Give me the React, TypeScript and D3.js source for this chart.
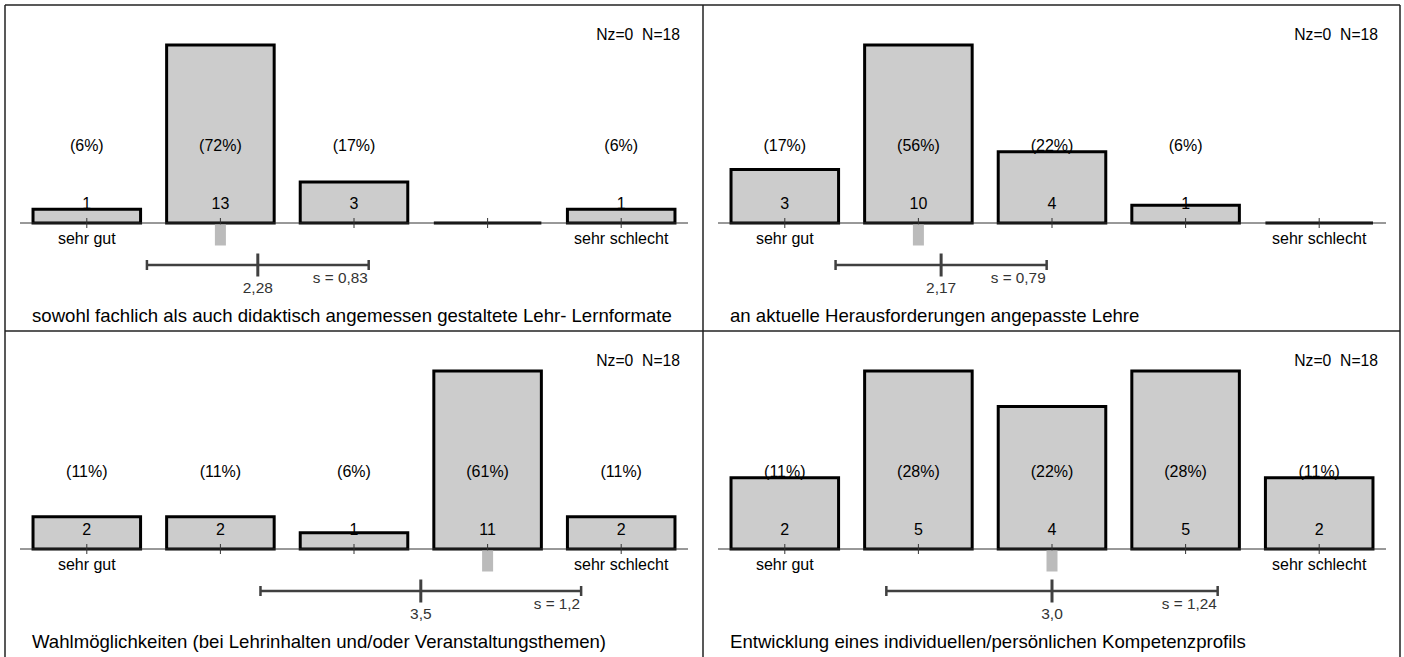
import React from 'react'
import * as d3 from 'd3'

// answer scale 1..5
const categories = ['1', '2', '3', '4', '5']
const endLabels = ['sehr gut', '', '', '', 'sehr schlecht']

const titles = [
  'sowohl fachlich als auch didaktisch angemessen gestaltete Lehr- Lernformate',
  'an aktuelle Herausforderungen angepasste Lehre',
  'Wahlmöglichkeiten (bei Lehrinhalten und/oder Veranstaltungsthemen)',
  'Entwicklung eines individuellen/persönlichen Kompetenzprofils',
]

const counts = [
  [1, 13, 3, 0, 1],
  [3, 10, 4, 1, 0],
  [2, 2, 1, 11, 2],
  [2, 5, 4, 5, 2],
]

const means = [2.28, 2.17, 3.5, 3.0]
const meanLabels = ['2,28', '2,17', '3,5', '3,0']
const sds = [0.83, 0.79, 1.2, 1.24]
const sdLabels = ['0,83', '0,79', '1,2', '1,24']
const medians = [2, 2, 4, 3]
const nz = [0, 0, 0, 0]
const nTotal = [18, 18, 18, 18]

const W = 1404
const H = 657
const PW = 698
const PH = 326
const FONT = '"Liberation Sans", Arial, Helvetica, sans-serif'

const Panel: React.FC<{ i: number; x0: number; y0: number }> = ({ i, x0, y0 }) => {
  const data = counts[i]
  const base = 218
  const x = d3.scaleBand<string>().domain(categories).range([15, 683]).padding(0)
  const step = x.step()
  const cx = (c: string) => (x(c) ?? 0) + step / 2
  // continuous position for mean / sd
  const xv = d3.scaleLinear().domain([1, 5]).range([cx('1'), cx('5')])
  const y = d3.scaleLinear().domain([0, d3.max(data) ?? 1]).range([base, 40])
  const bw = step * 0.805
  const total = nTotal[i]
  const m = means[i]
  const s = sds[i]
  const lo = xv(m - s)
  const hi = xv(m + s)
  const lineY = 260

  return (
    <g transform={`translate(${x0},${y0})`} fontFamily={FONT} fill="#000">
      <text x={675} y={35} fontSize={15.7} textAnchor="end" xmlSpace="preserve">
        {`Nz=${nz[i]}  N=${total}`}
      </text>
      {/* bars */}
      {data.map((v, k) => {
        const c = categories[k]
        const left = cx(c) - bw / 2
        const top = y(v)
        return (
          <path
            key={'b' + k}
            d={`M${left},${base}V${top}H${left + bw}V${base}Z`}
            fill="#cccccc"
            stroke="#000"
            strokeWidth={3}
          />
        )
      })}
      {/* axis */}
      <line x1={15} x2={683} y1={base} y2={base} stroke="#333" strokeWidth={1} />
      {categories.map((c) => (
        <line key={'t' + c} x1={cx(c)} x2={cx(c)} y1={base - 5} y2={base + 5} stroke="#333" strokeWidth={1} />
      ))}
      {/* labels */}
      {data.map((v, k) =>
        v > 0 ? (
          <g key={'l' + k} fontSize={16} textAnchor="middle">
            <text x={cx(categories[k])} y={146}>{`(${Math.round((v / total) * 100)}%)`}</text>
            <text x={cx(categories[k])} y={204}>{v}</text>
          </g>
        ) : null,
      )}
      {endLabels.map((t, k) =>
        t ? (
          <text key={'e' + k} x={cx(categories[k])} y={239} fontSize={16} textAnchor="middle">
            {t}
          </text>
        ) : null,
      )}
      {/* median */}
      <rect x={xv(medians[i]) - 5.5} y={base + 1.5} width={11} height={21} fill="#bbbbbb" />
      {/* mean +- sd */}
      <g stroke="#404040">
        <line x1={lo} x2={hi} y1={lineY} y2={lineY} strokeWidth={2.5} />
        <line x1={lo} x2={lo} y1={lineY - 5} y2={lineY + 5} strokeWidth={2.5} />
        <line x1={hi} x2={hi} y1={lineY - 5} y2={lineY + 5} strokeWidth={2.5} />
        <line x1={xv(m)} x2={xv(m)} y1={lineY - 11.5} y2={lineY + 11.5} strokeWidth={3} />
      </g>
      <text x={xv(m)} y={287.5} fontSize={15.5} textAnchor="middle" fill="#333">
        {meanLabels[i]}
      </text>
      <text x={hi - 1} y={277.5} fontSize={15.3} textAnchor="end" fill="#333">
        {`s = ${sdLabels[i]}`}
      </text>
      <text x={27} y={316.5} fontSize={18.6}>
        {titles[i]}
      </text>
    </g>
  )
}

export default function App() {
  const origins = [
    [5, 5],
    [5 + PW, 5],
    [5, 5 + PH],
    [5 + PW, 5 + PH],
  ]
  return (
    <svg width={W} height={H} style={{ position: 'fixed', left: 0, top: 0, background: '#fff' }}>
      <rect x={0} y={0} width={W} height={H} fill="#fff" />
      {origins.map(([px, py], i) => (
        <Panel key={i} i={i} x0={px} y0={py} />
      ))}
      <g stroke="#222" strokeWidth={1.5} fill="none">
        <line x1={5} x2={1400} y1={5} y2={5} />
        <line x1={5} x2={5} y1={5} y2={H} />
        <line x1={1400} x2={1400} y1={5} y2={H} />
        <line x1={703} x2={703} y1={5} y2={H} />
        <line x1={5} x2={1400} y1={331} y2={331} />
      </g>
    </svg>
  )
}
